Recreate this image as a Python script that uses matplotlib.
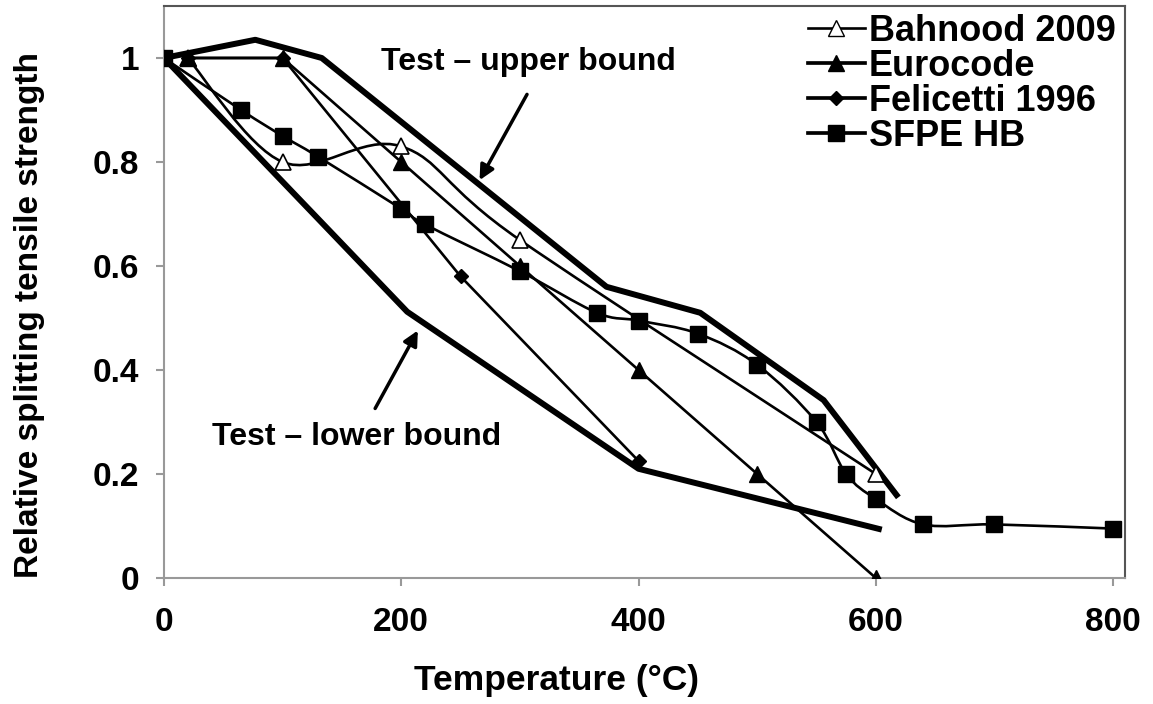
import matplotlib
matplotlib.use('Agg')
import matplotlib.pyplot as plt
from matplotlib.path import Path
from matplotlib.patches import PathPatch
from matplotlib.lines import Line2D
import numpy as np

# Series (temperature in degC, relative strength)
bahnood_t = [20, 100, 200, 300, 600]
bahnood_k = [1.0, 0.80, 0.83, 0.65, 0.20]

eurocode_t = [20, 100, 200, 300, 400, 500, 600]
eurocode_k = [1.0, 1.0, 0.80, 0.60, 0.40, 0.20, 0.0]

felicetti_t = [20, 100, 250, 400]
felicetti_k = [1.0, 1.0, 0.58, 0.225]

sfpe_t = [0, 65, 100, 130, 200, 220, 300, 365, 400, 450, 500, 550, 575, 600, 640, 700, 800]
sfpe_k = [1.0, 0.90, 0.85, 0.81, 0.71, 0.68, 0.59, 0.51, 0.495, 0.47, 0.41, 0.30, 0.20, 0.152, 0.103, 0.103, 0.095]

upper_t = [0, 77, 133, 373, 452, 556, 619]
upper_k = [1.0, 1.035, 1.0, 0.56, 0.51, 0.342, 0.155]

lower_t = [0, 205, 400, 605]
lower_k = [1.0, 0.512, 0.21, 0.093]

FONT = ['Liberation Sans', 'DejaVu Sans']
plt.rcParams['font.family'] = FONT
plt.rcParams['font.weight'] = 'bold'


def smooth_path(x, y):
    """Catmull-Rom style smoothed curve through the points, as a bezier path."""
    pts = np.column_stack([x, y]).astype(float)
    n = len(pts)
    verts = [pts[0]]
    codes = [Path.MOVETO]
    for i in range(n - 1):
        p0 = pts[i - 1] if i > 0 else pts[i]
        p1 = pts[i]
        p2 = pts[i + 1]
        p3 = pts[i + 2] if i + 2 < n else pts[i + 1]
        c1 = p1 + (p2 - p0) / 6.0
        c2 = p2 - (p3 - p1) / 6.0
        verts += [c1, c2, p2]
        codes += [Path.CURVE4] * 3
    return Path(verts, codes)


fig = plt.figure(figsize=(11.53, 7.04), dpi=100)
ax = fig.add_axes([0.1422, 0.179, 0.8335, 0.8125])

thin = 1.9
thick = 4.3

# test envelopes
ax.plot(upper_t, upper_k, color='black', lw=thick, solid_capstyle='butt', zorder=2)
ax.plot(lower_t, lower_k, color='black', lw=thick, solid_capstyle='butt', zorder=2)

# Bahnood 2009 - smoothed line, open triangles
ax.add_patch(PathPatch(smooth_path(bahnood_t, bahnood_k), fill=False, lw=thin,
                       edgecolor='black', zorder=3))
ax.plot(bahnood_t, bahnood_k, ls='none', marker='^', ms=12, mfc='white',
        mec='black', mew=1.2, zorder=4)

# Eurocode - straight segments, filled triangles
ax.plot(eurocode_t, eurocode_k, color='black', lw=thin, marker='^', ms=11,
        zorder=4)

# Felicetti 1996 - diamonds
ax.plot(felicetti_t, felicetti_k, color='black', lw=thin, marker='D', ms=7,
        zorder=4)

# SFPE handbook - smoothed line, squares
ax.add_patch(PathPatch(smooth_path(sfpe_t, sfpe_k), fill=False, lw=thin,
                       edgecolor='black', zorder=3))
ax.plot(sfpe_t, sfpe_k, ls='none', marker='s', ms=12, color='black', zorder=5)

ax.set_xlim(0, 810)
ax.set_ylim(0, 1.1)
ax.set_xticks([0, 200, 400, 600, 800])
ax.set_yticks([0, 0.2, 0.4, 0.6, 0.8, 1.0])
ax.set_yticklabels(['0', '0.2', '0.4', '0.6', '0.8', '1'])

for side in ['left', 'bottom']:
    ax.spines[side].set_color('#999999')
    ax.spines[side].set_linewidth(1.5)
for side in ['top', 'right']:
    ax.spines[side].set_color('#555555')
    ax.spines[side].set_linewidth(1.5)

ax.tick_params(axis='both', direction='out', length=6, width=1.5,
               color='#999999', labelsize=24)
ax.tick_params(axis='y', pad=12)
ax.tick_params(axis='x', pad=15)

# axis titles sit on the figure, not centred on the plot area
fig.text(0.483, 0.034, 'Temperature (\u00b0C)', fontsize=25.5, fontweight='bold',
         ha='center', va='center')
fig.text(0.026, 0.553, 'Relative splitting tensile strength', fontsize=24,
         fontweight='bold', ha='center', va='center', rotation=90)

# arrows pointing at the envelopes
ax.text(307, 0.992, 'Test \u2013 upper bound', fontsize=23, fontweight='bold',
        ha='center', va='center')
ax.annotate('', xy=(266, 0.765), xytext=(306, 0.93),
            arrowprops=dict(arrowstyle='-|>', lw=2.5, color='black',
                            mutation_scale=22, shrinkA=0, shrinkB=0))
ax.text(162, 0.271, 'Test \u2013 lower bound', fontsize=23, fontweight='bold',
        ha='center', va='center')
ax.annotate('', xy=(214, 0.476), xytext=(178, 0.326),
            arrowprops=dict(arrowstyle='-|>', lw=2.5, color='black',
                            mutation_scale=22, shrinkA=0, shrinkB=0))

handles = [
    Line2D([], [], color='black', lw=thin, marker='^', ms=12, mfc='white', mec='black'),
    Line2D([], [], color='black', lw=thin * 1.4, marker='^', ms=11),
    Line2D([], [], color='black', lw=thin * 1.4, marker='D', ms=7),
    Line2D([], [], color='black', lw=thin * 1.4, marker='s', ms=12),
]
labels = ['Bahnood 2009', 'Eurocode', 'Felicetti 1996', 'SFPE HB']
ax.legend(handles, labels, loc='upper left', bbox_to_anchor=(0.67, 0.986),
          frameon=False, borderpad=0, borderaxespad=0,
          labelspacing=0.0, handlelength=1.58, handletextpad=0.1,
          prop={'weight': 'bold', 'size': 26})

fig.savefig('out.png', dpi=100)
